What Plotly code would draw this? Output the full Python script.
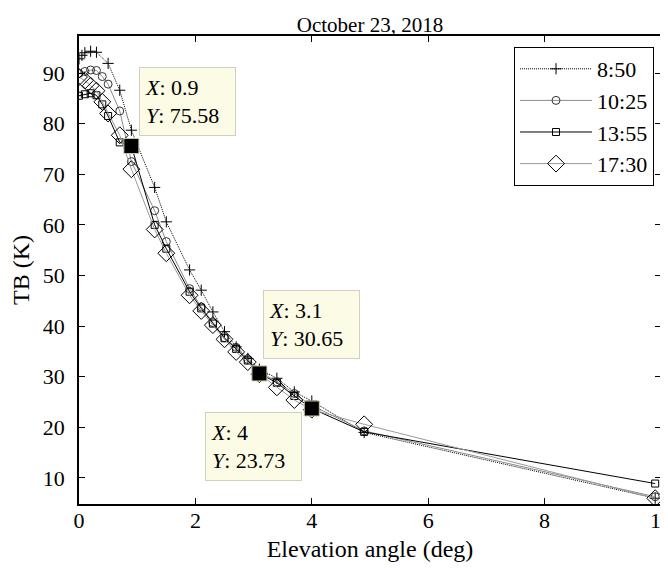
import plotly.graph_objects as go

# ---------------- data ----------------
x_850 = [0, 0.05, 0.1, 0.2, 0.3, 0.5, 0.7, 0.9, 1.3, 1.5, 1.9, 2.1, 2.3, 2.5, 2.7, 2.9, 3.1, 3.4, 3.7, 4.0, 4.9, 9.9]
y_850 = [92.8, 93.5, 94.0, 94.3, 94.1, 91.9, 86.6, 78.7, 67.4, 60.6, 51.1, 47.1, 42.8, 38.9, 35.9, 33.6, 31.5, 29.7, 27.0, 25.2, 19.0, 6.0]

x_1025 = [0, 0.1, 0.2, 0.3, 0.4, 0.5, 0.7, 0.9, 1.3, 1.5, 1.9, 2.1, 2.3, 2.5, 2.7, 2.9, 3.1, 3.4, 3.7, 4.0, 4.9, 9.9]
y_1025 = [89.9, 90.3, 90.6, 90.5, 89.3, 87.8, 82.5, 72.5, 62.8, 56.7, 47.4, 43.8, 40.7, 37.7, 35.8, 33.4, 31.0, 29.0, 26.7, 24.3, 19.3, 6.3]

x_1355 = [0, 0.1, 0.2, 0.3, 0.4, 0.5, 0.7, 0.9, 1.3, 1.5, 1.9, 2.1, 2.3, 2.5, 2.7, 2.9, 3.1, 3.4, 3.7, 4.0, 4.9, 9.9]
y_1355 = [85.5, 85.8, 86.0, 85.6, 83.8, 81.5, 76.3, 75.58, 60.0, 55.3, 46.8, 43.5, 40.5, 37.6, 35.5, 33.2, 30.65, 28.8, 26.2, 23.73, 19.1, 8.9]

x_1730 = [0, 0.1, 0.2, 0.3, 0.4, 0.5, 0.7, 0.9, 1.3, 1.5, 1.9, 2.1, 2.3, 2.5, 2.7, 2.9, 3.1, 3.4, 3.7, 4.0, 4.9, 9.9]
y_1730 = [89.2, 88.5, 87.5, 86.5, 84.3, 82.0, 77.7, 71.0, 59.1, 54.4, 46.1, 43.0, 40.2, 37.4, 34.9, 32.9, 30.5, 27.9, 25.4, 23.5, 20.6, 6.0]

tip_x = [0.9, 3.1, 4]
tip_y = [75.58, 30.65, 23.73]

series_names = ["8:50", "10:25", "13:55", "17:30"]
x_ticks = [0, 2, 4, 6, 8, 10]
y_ticks = [10, 20, 30, 40, 50, 60, 70, 80, 90]

FONT = "Liberation Serif"

fig = go.Figure()

fig.add_trace(go.Scatter(
    x=x_850, y=y_850, name=series_names[0], mode="lines+markers",
    line=dict(color="black", width=1, dash="1px,1px"),
    marker=dict(symbol="cross-thin", size=8, line=dict(color="black", width=1)),
    legendgroup="a"))
fig.add_trace(go.Scatter(
    x=x_1025, y=y_1025, name=series_names[1], mode="lines+markers",
    line=dict(color="#8c8c8c", width=1),
    marker=dict(symbol="circle-open", size=8, color="#333333", line=dict(width=1)),
    legendgroup="b"))
fig.add_trace(go.Scatter(
    x=x_1355, y=y_1355, name=series_names[2], mode="lines+markers",
    line=dict(color="black", width=1),
    marker=dict(symbol="square-open", size=7, color="black", line=dict(width=1)),
    legendgroup="c"))
fig.add_trace(go.Scatter(
    x=x_1730, y=y_1730, name=series_names[3], mode="lines+markers",
    line=dict(color="#9a9a9a", width=1),
    marker=dict(symbol="diamond-open", size=13, color="black", line=dict(width=1)),
    legendgroup="d"))

fig.add_trace(go.Scatter(
    x=tip_x, y=tip_y, mode="markers", showlegend=False,
    marker=dict(symbol="square", size=15, color="black", line=dict(color="#c8c8a0", width=1))))

for tx, ty, ax, ay in zip(tip_x, tip_y, [1.03, 3.16, 2.16], [91.1, 47.1, 23.06]):
    fig.add_annotation(
        x=ax, y=ay, xref="x", yref="y", xanchor="left", yanchor="top",
        text=f"<i>X</i>: {tx:g}<br><i>Y</i>: {ty:g}",
        showarrow=False, align="left",
        font=dict(family=FONT, size=22, color="black"),
        bgcolor="#fbfbe6", bordercolor="#d0d0c0", borderwidth=1, borderpad=5,
        width=85, height=57)

axis_common = dict(
    showline=True, linecolor="black", linewidth=1.5, mirror="ticks",
    ticks="inside", ticklen=6, tickwidth=1, tickcolor="black",
    showgrid=False, zeroline=False, automargin=False,
    ticklabeloverflow="allow",
    tickfont=dict(family=FONT, size=22, color="black"),
)

# page body has an 8px margin: figure is 8px smaller and margins shifted
fig.update_layout(
    width=660, height=562,
    margin=dict(l=71, r=7, t=28, b=66),
    paper_bgcolor="white", plot_bgcolor="white",
    title=dict(text="October 23, 2018", x=0.5, xref="paper", xanchor="center",
               y=1, yref="paper", yanchor="bottom", pad=dict(b=4),
               font=dict(family=FONT, size=21, color="black")),
    xaxis=dict(range=[0, 10], tickvals=x_ticks, ticklabelstandoff=-4,
               title=dict(text="Elevation angle (deg)", standoff=8,
                          font=dict(family=FONT, size=24, color="#000000")),
               **axis_common),
    yaxis=dict(range=[4.86, 97.31], tickvals=y_ticks, ticklabelstandoff=8,
               title=dict(text="TB (K)", standoff=13,
                          font=dict(family=FONT, size=24, color="#000000")),
               **axis_common),
    legend=dict(x=0.988, y=0.9765, xanchor="right", yanchor="top",
                bgcolor="white", bordercolor="black", borderwidth=1,
                font=dict(family=FONT, size=22, color="black"),
                tracegroupgap=0, itemwidth=72),
    showlegend=True,
)

fig.write_html("out.html")
